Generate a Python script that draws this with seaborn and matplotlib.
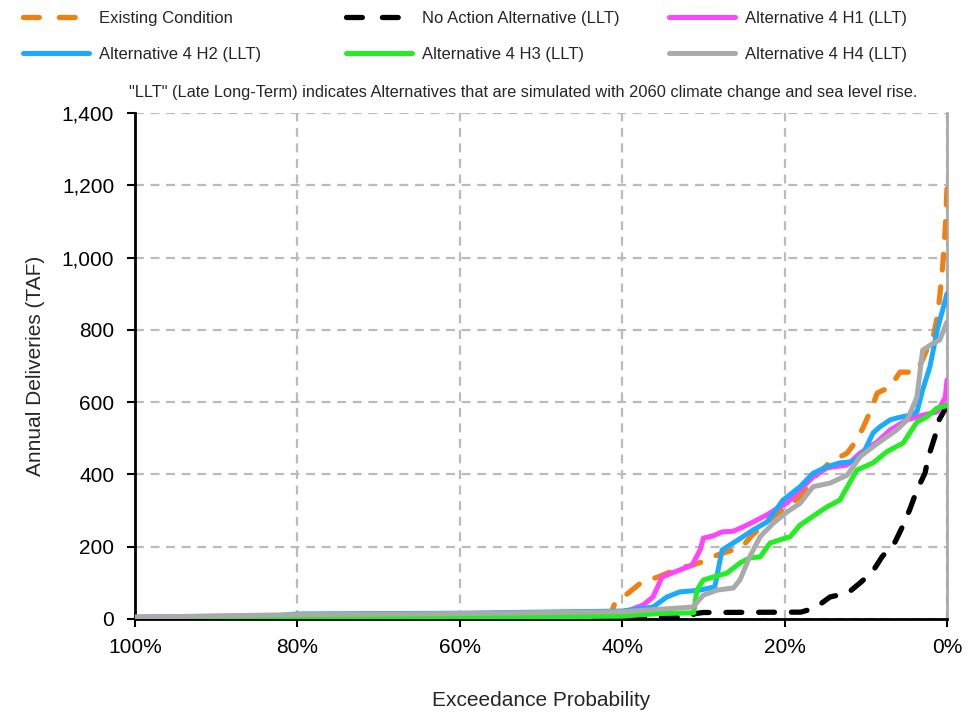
import matplotlib
matplotlib.use("Agg")
import matplotlib.pyplot as plt
from matplotlib.ticker import FuncFormatter
from matplotlib.lines import Line2D
import seaborn as sns
import pandas as pd

# ---------------- data (exceedance probability %, annual deliveries TAF) ----------------
existing_x = [100, 80, 60, 45, 41.5, 40.9, 39.4, 37.6, 35.6, 32.9, 31.6, 29.2, 28.3, 25.2, 24,
              21, 18.1, 16, 14.4, 12.3, 11.1, 10.3, 9.2, 8.6, 7.0, 5.8, 3.7, 2.5, 1.7, 1.2, 0.9,
              0.5, 0.2, 0]
existing_y = [2, 3, 4, 5, 8, 44, 69, 102, 116, 141, 147, 166, 177, 200, 232,
              290, 338, 400, 434, 459, 495, 531, 587, 625, 642, 683, 683, 744, 780, 836, 891,
              985, 1085, 1190]

noaction_x = [100, 80, 60, 40, 32, 31, 30, 18, 16.3, 14.4, 12.2, 10.7, 9.2, 8, 6.4, 5.5, 4.6,
              3.7, 2.7, 2.3, 1.5, 1, 0]
noaction_y = [0, 1, 2, 4, 5, 15, 18, 19, 30, 61, 72, 100, 130, 172, 213, 255, 302,
              357, 404, 448, 504, 550, 590]

h1_x = [100, 80, 60, 40, 39, 37.4, 36.2, 35.1, 33.9, 32.3, 31.4, 30.4, 30, 28.8, 27.7, 26.3,
        25.1, 23.9, 22.2, 20.6, 19.7, 18.1, 16.5, 14.8, 12.3, 10.7, 8.6, 7, 4.9, 3, 1.2, 0.2, 0]
h1_y = [5, 10, 14, 20, 25, 39, 61, 116, 127, 141, 149, 191, 224, 230, 241, 243,
        255, 268, 288, 310, 321, 357, 393, 418, 426, 459, 490, 523, 551, 564, 573, 614, 661]

h2_x = [100, 83, 80, 60, 40, 38, 36.2, 34.5, 32.9, 31.4, 30.4, 28.6, 27.7, 26.7, 25.1, 23.9,
        22.2, 21.4, 20.2, 18.1, 16.5, 14.8, 13.2, 11.6, 10.3, 9.1, 8.3, 7, 6.2, 4.6, 3.7, 3,
        2.1, 1.2, 0]
h2_y = [5, 8, 14, 16, 22, 28, 33, 61, 75, 78, 80, 89, 191, 205, 228, 246,
        268, 292, 329, 366, 403, 421, 432, 435, 459, 515, 531, 551, 556, 564, 573, 634,
        698, 800, 900]

h3_x = [100, 80, 60, 40, 35.6, 31.2, 30.8, 30, 28.8, 27.1, 25.5, 24.3, 23, 21.8, 20.6, 19.3,
        18.1, 14.8, 13.2, 11.1, 9.1, 7.4, 5.4, 3.7, 2.5, 1.2, 0]
h3_y = [0, 3, 4, 8, 15, 17, 80, 108, 116, 127, 155, 169, 172, 210, 219, 228,
        260, 310, 329, 412, 432, 463, 487, 545, 559, 584, 590]

h4_x = [100, 80, 60, 40, 31.3, 30, 28.3, 26.3, 25.5, 24.3, 23, 21.4, 19.7, 18.1, 16.5, 14.4,
        12.3, 10.7, 9.1, 7.4, 6.2, 4.9, 3.7, 3, 1.7, 0.9, 0]
h4_y = [5, 12, 15, 20, 33, 66, 80, 86, 108, 172, 228, 265, 296, 320, 366, 376,
        398, 449, 477, 504, 523, 551, 614, 744, 763, 772, 822]

labels = ["Existing Condition", "No Action Alternative (LLT)", "Alternative 4 H1 (LLT)",
          "Alternative 4 H2 (LLT)", "Alternative 4 H3 (LLT)", "Alternative 4 H4 (LLT)"]
colors = ["#EE8210", "#000000", "#FF44FF", "#1AAAFF", "#22EE22", "#AAAAAA"]
series = [(existing_x, existing_y), (noaction_x, noaction_y), (h1_x, h1_y),
          (h2_x, h2_y), (h3_x, h3_y), (h4_x, h4_y)]

x_ticks = [100, 80, 60, 40, 20, 0]
y_ticks = [0, 200, 400, 600, 800, 1000, 1200, 1400]

# ---------------- plot ----------------
sns.set_theme(style="white")
plt.rcParams['font.family'] = ['Liberation Sans', 'DejaVu Sans']

fig = plt.figure(figsize=(9.69, 7.17), dpi=100)
ax = fig.add_axes([135/969, 98/717, (947-135)/969, (619-113)/717])

handles = []
for i, ((xs, ys), lab, col) in enumerate(zip(series, labels, colors)):
    df = pd.DataFrame({"p": xs, "v": ys})
    dashed = i < 2
    sns.lineplot(data=df, x="p", y="v", ax=ax, color=col, lw=3.6 if not dashed else 3.8,
                 estimator=None, sort=True, label=lab, zorder=3 + i,
                 solid_capstyle="round", dash_capstyle="round")
    line = ax.get_lines()[-1]
    if dashed:
        line.set_dashes([3.0, 3.2])
        proxy = Line2D([], [], color=col, lw=3.8, dash_capstyle="round",
                       dashes=[3.0, 3.8])
    else:
        proxy = Line2D([], [], color=col, lw=3.6, solid_capstyle="round")
    handles.append(proxy)

if ax.get_legend() is not None:
    ax.get_legend().remove()

ax.set_xlim(100, 0)
ax.set_ylim(0, 1400)
ax.set_xticks(x_ticks)
ax.set_yticks(y_ticks)
ax.xaxis.set_major_formatter(FuncFormatter(lambda v, p: f"{int(round(v))}%"))
ax.yaxis.set_major_formatter(FuncFormatter(lambda v, p: f"{int(v):,}"))

ax.grid(True, color="#BBBBBB", linestyle=(0, (4, 3)), linewidth=1.6)
ax.set_axisbelow(True)
for s in ["left", "bottom"]:
    ax.spines[s].set_color("black")
    ax.spines[s].set_linewidth(2.0)
ax.spines["right"].set_color("#AAAAAA")
ax.spines["right"].set_linewidth(2.0)
ax.spines["top"].set_visible(False)

ax.tick_params(axis="both", which="major", direction="out", length=6, width=1.5,
               colors="black", labelsize=15, bottom=True, left=True)
ax.tick_params(axis="x", pad=8)
ax.tick_params(axis="y", pad=9)

ax.set_xlabel("Exceedance Probability", fontsize=15, labelpad=24)
ax.set_ylabel("Annual Deliveries (TAF)", fontsize=15, labelpad=12)

# legend: three columns, each with two entries
col_x = [16/969, 339/969, 662/969]
for c in range(3):
    hs = [handles[c], handles[c + 3]]
    ls = [labels[c], labels[c + 3]]
    fig.legend(hs, ls, loc="upper left", bbox_to_anchor=(col_x[c], 1.0 - 4/717),
               frameon=False, fontsize=12, handlelength=4.0, handletextpad=0.6,
               labelspacing=1.25, borderaxespad=0.0)

fig.text(523/969, 1 - 92/717,
         '"LLT" (Late Long-Term) indicates Alternatives that are simulated with 2060 climate change and sea level rise.',
         ha="center", va="center", fontsize=11.8)

fig.savefig("out.png", dpi=100)
